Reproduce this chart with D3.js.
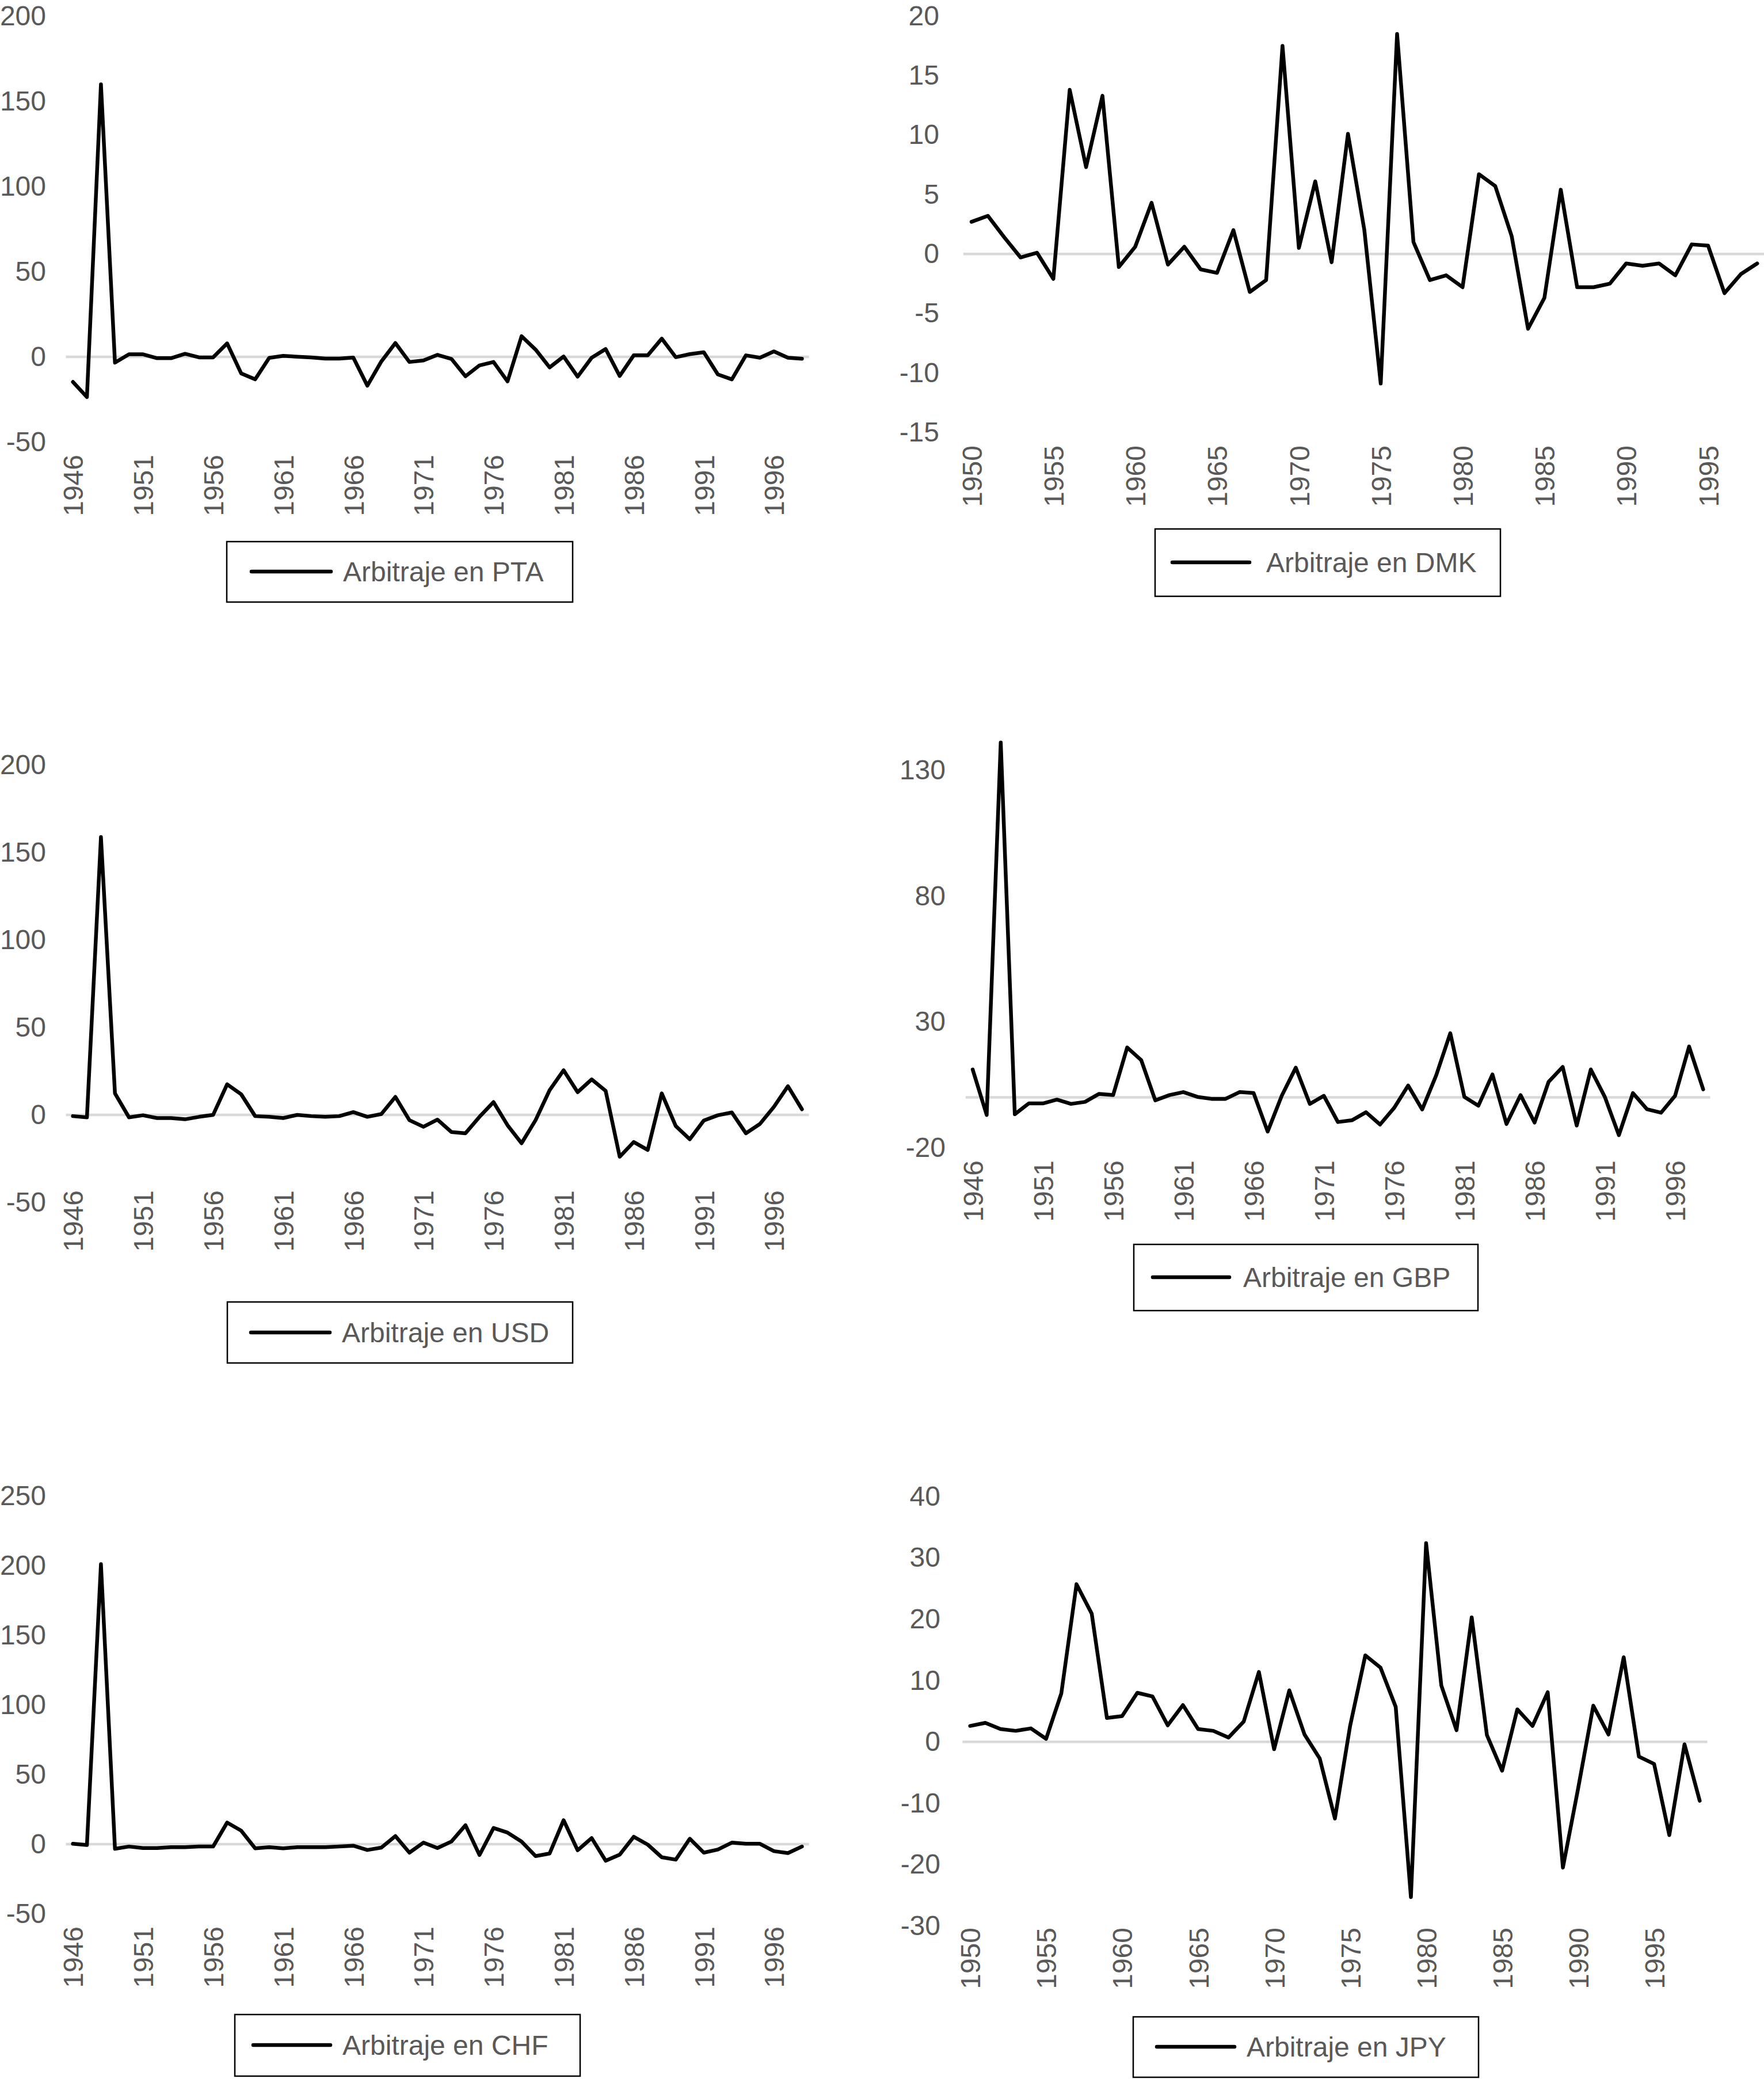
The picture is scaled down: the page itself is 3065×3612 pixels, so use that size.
<!DOCTYPE html>
<html><head><meta charset="utf-8">
<script src="https://cdn.jsdelivr.net/npm/d3@7"></script>
<style>
html,body{margin:0;padding:0;background:#fff;}
svg{display:block;}
text{font-family:"Liberation Sans",Arial,Helvetica,sans-serif;}
</style></head><body>
<svg id="chart" width="3065" height="3612"></svg>
<script>
// ---------- DATA ----------
const years1946 = ["1946","1947","1948","1949","1950","1951","1952","1953","1954","1955",
  "1956","1957","1958","1959","1960","1961","1962","1963","1964","1965",
  "1966","1967","1968","1969","1970","1971","1972","1973","1974","1975",
  "1976","1977","1978","1979","1980","1981","1982","1983","1984","1985",
  "1986","1987","1988","1989","1990","1991","1992","1993","1994","1995",
  "1996","1997","1998"];
const years1950 = ["1950","1951","1952","1953","1954","1955","1956","1957","1958","1959",
  "1960","1961","1962","1963","1964","1965","1966","1967","1968","1969",
  "1970","1971","1972","1973","1974","1975","1976","1977","1978","1979",
  "1980","1981","1982","1983","1984","1985","1986","1987","1988","1989",
  "1990","1991","1992","1993","1994","1995","1996","1997","1998"];
const xTickLabels1946 = ["1946","1951","1956","1961","1966","1971","1976","1981","1986","1991","1996"];
const xTickLabels1950 = ["1950","1955","1960","1965","1970","1975","1980","1985","1990","1995"];

const ptaValues = [-14.7,-23.6,160,-3.4,1.5,1.5,-0.8,-0.8,1.8,-0.3,
  -0.3,7.9,-9.7,-13.2,-0.6,0.6,0.1,-0.3,-1.0,-1.0,
  -0.4,-16.9,-2.7,8.1,-3.0,-2.1,1.2,-1.2,-11.4,-5.0,
  -3.0,-14.4,12.1,4.3,-6.2,0.2,-11.6,-0.5,4.6,-11.2,
  0.9,0.9,10.7,-0.2,1.6,2.7,-10.3,-13.2,0.9,-0.5,
  3.2,-0.5,-1.1];
const dmkValues = [2.7,3.2,1.4,-0.3,0.1,-2.1,13.8,7.3,13.3,-1.1,
  0.6,4.3,-0.9,0.6,-1.3,-1.6,2.0,-3.2,-2.2,17.5,
  0.5,6.1,-0.7,10.1,2.0,-10.9,18.5,1.0,-2.2,-1.8,
  -2.8,6.7,5.7,1.5,-6.3,-3.7,5.4,-2.8,-2.8,-2.5,
  -0.8,-1.0,-0.8,-1.8,0.8,0.7,-3.3,-1.7,-0.8];
const usdValues = [-0.7,-1.4,158.8,12.3,-1.4,-0.2,-1.8,-1.8,-2.5,-1.1,
  0,17.5,11.8,-0.7,-1.1,-1.8,0,-0.7,-1.1,-0.7,
  1.6,-1.1,0.5,10.3,-3.0,-6.8,-2.7,-9.8,-10.5,-1.1,
  7.3,-5.9,-16.2,-3.0,14.1,25.5,13.0,20.3,13.7,-23.9,
  -15.5,-20.0,12.3,-6.4,-13.9,-3.2,-0.2,1.4,-10.5,-5.2,
  4.6,16.4,3.2];
const gbpValues = [11.1,-7.0,141,-6.7,-2.4,-2.4,-0.9,-2.6,-1.8,1.4,
  0.9,19.8,14.8,-1.2,0.9,2.1,0.2,-0.6,-0.6,2.1,
  1.7,-13.6,0.6,11.8,-2.6,0.6,-9.8,-9.1,-5.9,-10.8,
  -4.2,4.7,-4.8,8.8,25.5,0.2,-3.3,9.1,-10.6,0.9,
  -10.0,6.2,12.1,-11.2,11.1,0.2,-15.0,1.7,-4.7,-6.1,
  0.6,20.2,3.2];
const chfValues = [0.3,-0.6,201,-3.3,-1.7,-2.8,-2.8,-2.2,-2.2,-1.7,
  -1.7,15.5,9.7,-3.0,-2.2,-3.0,-2.2,-2.2,-2.2,-1.7,
  -1.1,-4.2,-2.5,5.8,-6.1,1.1,-2.8,1.9,13.6,-7.8,
  11.6,8.3,1.9,-8.6,-6.7,17.2,-4.4,4.4,-11.9,-7.5,
  5.3,-0.3,-9.4,-11.1,3.9,-6.1,-3.9,1.1,0.3,0.3,
  -5.0,-6.4,-1.7];
const jpyValues = [2.6,3.1,2.1,1.8,2.2,0.5,7.9,25.7,20.9,3.9,
  4.2,8.0,7.4,2.7,6.0,2.1,1.8,0.7,3.3,11.4,
  -1.2,8.4,1.2,-2.7,-12.5,2.6,14.1,12.1,5.7,-25.3,
  32.4,9.2,1.9,20.3,1.1,-4.7,5.3,2.6,8.1,-20.5,
  -7.6,5.9,1.2,13.8,-2.4,-3.6,-15.2,-0.4,-9.6];

const ptaTicks = [-50,0,50,100,150,200];
const dmkTicks = [-15,-10,-5,0,5,10,15,20];
const usdTicks = [-50,0,50,100,150,200];
const gbpTicks = [-20,30,80,130];
const chfTicks = [-50,0,50,100,150,200,250];
const jpyTicks = [-30,-20,-10,0,10,20,30,40];

const seriesNames = ["Arbitraje en PTA","Arbitraje en DMK","Arbitraje en USD",
  "Arbitraje en GBP","Arbitraje en CHF","Arbitraje en JPY"];

// ---------- LAYOUT (pixels) ----------
const layouts = [
  {x0:114.5, x1:1405.6, yTop:28,   yBot:768,  labelRight:80,   xLabelTop:790,
   box:[394,941,601,105],   line:[437,575,993],   textX:596},
  {x0:1673.8, x1:3067.4, yTop:28,  yBot:751,  labelRight:1632, xLabelTop:774,
   box:[2007,919,600,117],  line:[2037,2171,977], textX:2200},
  {x0:114.5, x1:1405.6, yTop:1329, yBot:2089, labelRight:80,   xLabelTop:2068,
   box:[395,2262,600,106],  line:[436,573,2315],  textX:594},
  {x0:1677.8, x1:2971.5, yTop:1338, yBot:1994, labelRight:1643, xLabelTop:2016,
   box:[1970,2162,598,115], line:[2003,2136,2219], textX:2160},
  {x0:114.5, x1:1405.6, yTop:2599, yBot:3325, labelRight:80,   xLabelTop:3347,
   box:[408,3500,600,107],  line:[440,574,3553],  textX:595},
  {x0:1672.4, x1:2966.5, yTop:2600, yBot:3346, labelRight:1634, xLabelTop:3349,
   box:[1969,3504,600,105], line:[2010,2145,3556], textX:2166}
];

const panelData = [
  {cats:years1946, values:ptaValues, xTicks:xTickLabels1946, yTicks:ptaTicks},
  {cats:years1950, values:dmkValues, xTicks:xTickLabels1950, yTicks:dmkTicks},
  {cats:years1946, values:usdValues, xTicks:xTickLabels1946, yTicks:usdTicks},
  {cats:years1946, values:gbpValues, xTicks:xTickLabels1946, yTicks:gbpTicks},
  {cats:years1946, values:chfValues, xTicks:xTickLabels1946, yTicks:chfTicks},
  {cats:years1950, values:jpyValues, xTicks:xTickLabels1950, yTicks:jpyTicks}
];

const TEXT_COLOR = "#595959";
const FONT_SIZE = 48;
const FONT = '"Liberation Sans",Arial,Helvetica,sans-serif';

const svg = d3.select("#chart");

panelData.forEach((p, i) => {
  const L = layouts[i];
  const g = svg.append("g");
  const x = d3.scalePoint().domain(p.cats).range([L.x0, L.x1]).padding(0.5);
  const y = d3.scaleLinear()
    .domain([d3.min(p.yTicks), d3.max(p.yTicks)])
    .range([L.yBot, L.yTop]);

  // zero line
  g.append("line")
    .attr("x1", L.x0).attr("x2", L.x1)
    .attr("y1", y(0)).attr("y2", y(0))
    .attr("stroke", "#d9d9d9").attr("stroke-width", 4.5);

  // y axis (plain hyphen for negatives, as in the reference)
  const ya = g.append("g")
    .attr("transform", `translate(${L.labelRight},0)`)
    .call(d3.axisLeft(y).tickValues(p.yTicks).tickSize(0).tickPadding(0)
      .tickFormat(d => String(d)));
  ya.select(".domain").remove();
  ya.selectAll("text")
    .attr("fill", TEXT_COLOR)
    .style("font-size", FONT_SIZE + "px")
    .style("font-family", FONT);

  // x axis
  const xa = g.append("g")
    .attr("transform", `translate(0,${L.xLabelTop})`)
    .call(d3.axisBottom(x).tickValues(p.xTicks).tickSize(0).tickPadding(0));
  xa.select(".domain").remove();
  xa.selectAll("text")
    .attr("fill", TEXT_COLOR)
    .attr("transform", "rotate(-90)")
    .attr("text-anchor", "end")
    .attr("x", 0).attr("y", 0).attr("dy", "0.36em")
    .style("font-size", FONT_SIZE + "px")
    .style("font-family", FONT);

  // series line
  const line = d3.line()
    .x((d, j) => x(p.cats[j]))
    .y(d => y(d));
  g.append("path")
    .datum(p.values)
    .attr("d", line)
    .attr("fill", "none")
    .attr("stroke", "#000")
    .attr("stroke-width", 6.5)
    .attr("stroke-linejoin", "round")
    .attr("stroke-linecap", "round");

  // legend
  const [bx, by, bw, bh] = L.box;
  g.append("rect")
    .attr("x", bx).attr("y", by).attr("width", bw).attr("height", bh)
    .attr("fill", "#fff").attr("stroke", "#000").attr("stroke-width", 2.5);
  g.append("line")
    .attr("x1", L.line[0]).attr("x2", L.line[1])
    .attr("y1", L.line[2]).attr("y2", L.line[2])
    .attr("stroke", "#000").attr("stroke-width", 6.5)
    .attr("stroke-linecap", "round");
  g.append("text")
    .attr("x", L.textX).attr("y", L.line[2]).attr("dy", "0.35em")
    .attr("fill", TEXT_COLOR)
    .style("font-size", FONT_SIZE + "px")
    .style("font-family", FONT)
    .text(seriesNames[i]);
});
</script>
</body></html>
